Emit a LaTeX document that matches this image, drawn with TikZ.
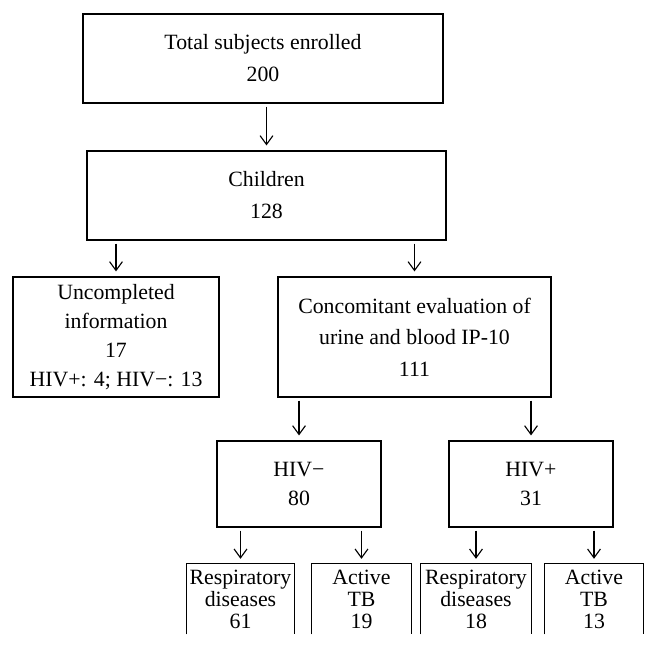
\documentclass[tikz,border=0pt]{standalone}
\usepackage{fontspec}
\setmainfont{Liberation Serif}
\usetikzlibrary{arrows.meta}

\tikzset{
    box/.style={draw, line width=0.9pt, align=center, inner sep=0pt,
        font=\fontsize{15.5}{22.7}\selectfont},
    openbox/.style={align=center, inner sep=0pt, minimum height=1.75cm,
        font=\fontsize{15.5}{15.6}\selectfont},
    flow/.style={line width=0.8pt, -{Straight Barb[length=2.2mm,width=3.2mm]},
        shorten <=2.2pt, shorten >=3.5pt}
}

\begin{document}
\begin{tikzpicture}[x=0.025cm, y=-0.025cm]
    \useasboundingbox (0,0) rectangle (658,649);

    % Enrolment
    \node[box, minimum width=9cm, minimum height=2.225cm] (total) at (263,58.5) {Total subjects enrolled\\200};
    \node[box, minimum width=8.975cm, minimum height=2.225cm] (children) at (266.5,195.5) {Children\\128};

    % Split of the children
    \node[box, minimum width=5.15cm, minimum height=3cm, font=\fontsize{15.5}{20.6}\selectfont] (uncomp) at (116,337) {Uncompleted\\information\\17\\HIV+: 4; HIV−: 13};
    \node[box, minimum width=6.825cm, minimum height=3cm, font=\fontsize{15.5}{22.4}\selectfont] (eval) at (414.5,337) {Concomitant evaluation of\\urine and blood IP-10\\111};

    % HIV status
    \node[box, minimum width=4.1cm, minimum height=2.15cm, font=\fontsize{15.5}{20.6}\selectfont] (hivneg) at (299,484) {HIV−\\80};
    \node[box, minimum width=4.1cm, minimum height=2.15cm, font=\fontsize{15.5}{20.6}\selectfont] (hivpos) at (531,484) {HIV+\\31};

    % Diagnoses (boxes run off the page)
    \node[openbox, minimum width=2.675cm] (resp1) at (240.5,599) {Respiratory\\diseases\\61};
    \node[openbox, minimum width=2.475cm] (tb1) at (361.5,599) {Active\\TB\\19};
    \node[openbox, minimum width=2.75cm] (resp2) at (476,599) {Respiratory\\diseases\\18};
    \node[openbox, minimum width=2.45cm] (tb2) at (594,599) {Active\\TB\\13};
    \foreach \n in {resp1,tb1,resp2,tb2} {
        \draw[line width=0.9pt] (\n.south west) -- (\n.north west) -- (\n.north east) -- (\n.south east);
    }

    % Arrows
    \draw[flow] (total.south -| children.north) -- (children.north);
    \draw[flow] (children.south -| uncomp.north) -- (uncomp.north);
    \draw[flow] (children.south -| eval.north) -- (eval.north);
    \draw[flow] (eval.south -| hivneg.north) -- (hivneg.north);
    \draw[flow] (eval.south -| hivpos.north) -- (hivpos.north);
    \foreach \p/\c in {hivneg/resp1, hivneg/tb1, hivpos/resp2, hivpos/tb2} {
        \draw[flow] (\p.south -| \c.north) -- (\c.north);
    }
\end{tikzpicture}
\end{document}
